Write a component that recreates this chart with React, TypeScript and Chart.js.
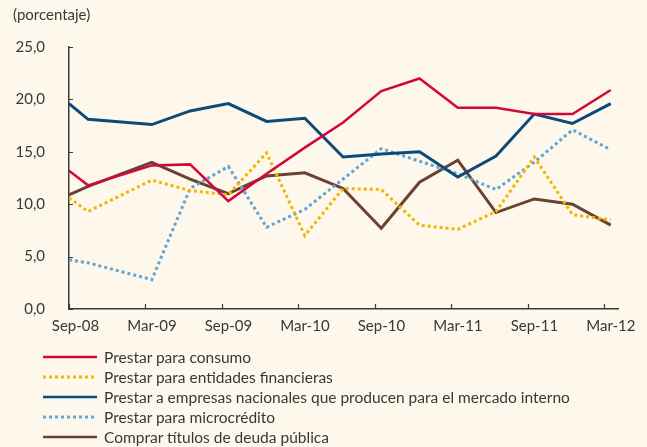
import React, { useEffect, useRef } from 'react';
import { Chart, registerables } from 'chart.js';

Chart.register(...registerables);

// months since Sep-08
const MONTHS = [0, 1.5, 6.5, 9.5, 12.5, 15.5, 18.5, 21.5, 24.5, 27.5, 30.5, 33.5, 36.5, 39.5, 42.5];
const TICK_MONTHS = [0, 6, 12, 18, 24, 30, 36, 42];
const TICK_LABELS = ['Sep-08', 'Mar-09', 'Sep-09', 'Mar-10', 'Sep-10', 'Mar-11', 'Sep-11', 'Mar-12'];
const Y_TICKS = [0, 5, 10, 15, 20, 25];

const CONSUMO = [13.2, 11.8, 13.7, 13.8, 10.3, 12.9, 15.4, 17.8, 20.8, 22.0, 19.2, 19.2, 18.6, 18.6, 20.9];
const ENTIDADES = [10.6, 9.3, 12.3, 11.3, 10.9, 14.9, 7.0, 11.5, 11.4, 8.0, 7.6, 9.3, 14.5, 9.0, 8.5];
const EMPRESAS = [19.6, 18.1, 17.6, 18.9, 19.6, 17.9, 18.2, 14.5, 14.8, 15.0, 12.6, 14.6, 18.6, 17.7, 19.6];
const MICROCREDITO = [4.7, 4.4, 2.8, 11.5, 13.6, 7.8, 9.5, 12.4, 15.3, 14.1, 12.9, 11.4, 14.0, 17.1, 15.2];
const DEUDA = [10.9, 11.7, 14.0, 12.4, 11.0, 12.7, 13.0, 11.5, 7.7, 12.1, 14.2, 9.2, 10.5, 10.0, 8.0];

const SERIES = [
  { name: 'Prestar para consumo', values: CONSUMO, color: '#D2073F', dotted: false, width: 2.5 },
  { name: 'Prestar para entidades financieras', values: ENTIDADES, color: '#F2B500', dotted: true, width: 3 },
  { name: 'Prestar a empresas nacionales que producen para el mercado interno', values: EMPRESAS, color: '#0B4A7B', dotted: false, width: 3 },
  { name: 'Prestar para microcrédito', values: MICROCREDITO, color: '#5EA6D4', dotted: true, width: 3 },
  { name: 'Comprar títulos de deuda pública', values: DEUDA, color: '#6A4231', dotted: false, width: 3 },
];

const BG = '#FDF8EB';
const TEXT = '#383838';
const AXIS = '#3a3a3a';
const FONT = 'Lato, "Open Sans", sans-serif';

const inwardTicks = {
  id: 'inwardTicks',
  afterDatasetsDraw(chart: any) {
    const { ctx, chartArea, scales } = chart;
    const x = scales.x;
    const y = scales.y;
    ctx.save();
    ctx.strokeStyle = AXIS;
    ctx.lineWidth = 1.2;
    ctx.beginPath();
    x.ticks.forEach((t: any) => {
      const px = Math.round(x.getPixelForValue(t.value)) + 0.5;
      ctx.moveTo(px, chartArea.bottom);
      ctx.lineTo(px, chartArea.bottom - 5);
    });
    y.ticks.forEach((t: any) => {
      const py = Math.round(y.getPixelForValue(t.value)) + 0.5;
      ctx.moveTo(chartArea.left, py);
      ctx.lineTo(chartArea.left + 4, py);
    });
    ctx.stroke();
    ctx.restore();
  },
};

export default function App() {
  const ref = useRef<HTMLCanvasElement | null>(null);

  useEffect(() => {
    if (!ref.current) return;
    const chart = new Chart(ref.current, {
      type: 'line',
      data: {
        datasets: SERIES.map((s) => ({
          label: s.name,
          data: MONTHS.map((m, i) => ({ x: m, y: s.values[i] })),
          borderColor: s.color,
          backgroundColor: s.color,
          borderWidth: s.width,
          borderDash: s.dotted ? [3, 3] : [],
          borderCapStyle: 'butt',
          borderJoinStyle: 'miter',
          pointRadius: 0,
          tension: 0,
          fill: false,
        })),
      },
      options: {
        responsive: false,
        animation: false,
        layout: { padding: { left: 13, right: 29, top: 0, bottom: 104 } },
        plugins: {
          legend: { display: false },
          tooltip: { enabled: false },
          title: {
            display: true,
            text: '(porcentaje)',
            align: 'start',
            color: TEXT,
            font: { family: FONT, size: 15, weight: 'normal' },
            padding: { top: 6, bottom: 23 },
          },
        },
        scales: {
          x: {
            type: 'linear',
            min: 0,
            max: 43.07,
            afterBuildTicks: (scale: any) => {
              scale.ticks = TICK_MONTHS.map((v) => ({ value: v }));
            },
            grid: { display: true, drawOnChartArea: false, drawTicks: false, color: 'rgba(0,0,0,0)' },
            border: { display: true, color: AXIS, width: 1.5 },
            ticks: {
              autoSkip: false,
              maxRotation: 0,
              labelOffset: 6.5,
              padding: 8,
              color: TEXT,
              font: { family: FONT, size: 15 },
              callback: (v: any) => TICK_LABELS[TICK_MONTHS.indexOf(Number(v))] ?? '',
            },
          },
          y: {
            type: 'linear',
            min: 0,
            max: 25,
            afterBuildTicks: (scale: any) => {
              scale.ticks = Y_TICKS.map((v) => ({ value: v }));
            },
            afterFit: (scale: any) => {
              scale.width = 56;
            },
            grid: { display: true, drawOnChartArea: false, drawTicks: false, color: 'rgba(0,0,0,0)' },
            border: { display: true, color: AXIS, width: 1.5 },
            ticks: {
              padding: 24,
              color: TEXT,
              font: { family: FONT, size: 15 },
              callback: (v: any) => Number(v).toFixed(1).replace('.', ','),
            },
          },
        },
      },
      plugins: [inwardTicks],
    } as any);
    return () => chart.destroy();
  }, []);

  return (
    <div
      style={{
        position: 'fixed',
        left: 0,
        top: 0,
        width: 647,
        height: 447,
        background: BG,
        overflow: 'hidden',
        fontFamily: FONT,
      }}
    >
      <canvas ref={ref} width={647} height={447} style={{ position: 'absolute', left: 0, top: 0, width: 647, height: 447 }} />
      {SERIES.map((s, i) => (
        <div
          key={s.name}
          style={{
            position: 'absolute',
            left: 43,
            top: 347 + i * 20,
            height: 20,
            display: 'flex',
            alignItems: 'center',
            whiteSpace: 'nowrap',
          }}
        >
          <svg width={54} height={6} style={{ display: 'block' }}>
            <line
              x1={0}
              y1={3}
              x2={54}
              y2={3}
              stroke={s.color}
              strokeWidth={s.dotted ? 3 : 2.5}
              strokeDasharray={s.dotted ? '3 3' : undefined}
            />
          </svg>
          <span style={{ marginLeft: 7, fontSize: 15.5, color: TEXT, lineHeight: '20px' }}>{s.name}</span>
        </div>
      ))}
    </div>
  );
}
